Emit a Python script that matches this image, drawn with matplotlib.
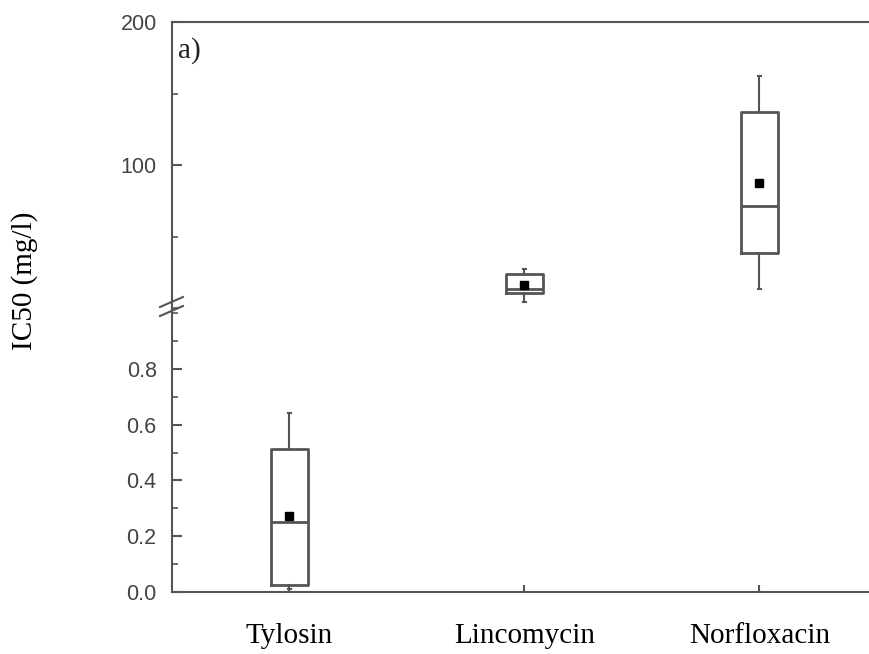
import matplotlib.pyplot as plt
from matplotlib.lines import Line2D
from matplotlib.ticker import MultipleLocator

categories = ["Tylosin", "Lincomycin", "Norfloxacin"]
whislo = [0.01, 4.2, 13.3]
q1 = [0.025, 10.5, 38.5]
med = [0.25, 13.3, 71.3]
q3 = [0.514, 23.8, 137]
whishi = [0.643, 27.3, 162]
means = [0.271, 16.1, 87.4]

gray = "#555555"
W, H = 870, 654
fig = plt.figure(figsize=(W / 100, H / 100), dpi=100)

left = 172 / W
width = 705 / W
ax_top = fig.add_axes([left, 1 - 308 / H, width, (308 - 22) / H])
ax_bot = fig.add_axes([left, 1 - 592 / H, width, (592 - 313) / H])

stats = []
for i in range(len(categories)):
    stats.append(dict(label=categories[i], whislo=whislo[i], q1=q1[i], med=med[i],
                      q3=q3[i], whishi=whishi[i], mean=means[i]))

box_kw = dict(widths=0.16, showmeans=True, showfliers=False, patch_artist=False,
              boxprops=dict(color=gray, linewidth=2.0),
              medianprops=dict(color=gray, linewidth=2.0),
              whiskerprops=dict(color=gray, linewidth=1.5),
              capprops=dict(color=gray, linewidth=1.5),
              meanprops=dict(marker="s", markerfacecolor="black", markeredgecolor="black", markersize=5.5),
              capwidths=0.015)

ax_bot.bxp(stats[:1], positions=[1], **box_kw)
ax_top.bxp(stats[1:], positions=[2, 3], **box_kw)

for ax in (ax_top, ax_bot):
    ax.set_xlim(0.5, 3.5)
    for s in ax.spines.values():
        s.set_color(gray)
        s.set_linewidth(1.5)
    ax.spines["right"].set_visible(False)
    ax.tick_params(axis="y", which="major", direction="in", length=7, width=1.5, color=gray,
                   labelsize=15.5, labelcolor="#444444", pad=11)
    ax.tick_params(axis="y", which="minor", direction="in", length=4, width=1.2, color=gray)

ax_top.set_ylim(0, 200)
ax_top.set_yticks([100, 200])
ax_top.set_yticklabels(["100", "200"], family="Liberation Sans")
ax_top.yaxis.set_minor_locator(MultipleLocator(50))
ax_top.spines["bottom"].set_visible(False)
ax_top.tick_params(axis="x", bottom=False, labelbottom=False)
ax_top.text(0.009, 0.90, "a)", transform=ax_top.transAxes, fontsize=21, family="Liberation Serif",
            color="#222222", va="center")

ax_bot.set_ylim(0, 1.0)
ax_bot.set_yticks([0.0, 0.2, 0.4, 0.6, 0.8])
ax_bot.set_yticklabels(["0.0", "0.2", "0.4", "0.6", "0.8"], family="Liberation Sans")
ax_bot.yaxis.set_minor_locator(MultipleLocator(0.1))
ax_bot.spines["top"].set_visible(False)
ax_bot.set_xticks([1, 2, 3])
ax_bot.set_xticklabels(categories, family="Liberation Serif", fontsize=21)
ax_bot.tick_params(axis="x", direction="in", length=5, width=1.5, color=gray, pad=22)

# spine connection and break marks
fig.add_artist(Line2D([left, left], [1 - 308 / H, 1 - 313 / H], color=gray, lw=1.5))
for yc in (302, 311):
    fig.add_artist(Line2D([160 / W, 183 / W], [1 - (yc + 5) / H, 1 - (yc - 5) / H],
                          color=gray, lw=1.5))

fig.text(25 / W, 1 - 281 / H, "IC50 (mg/l)", rotation=90, ha="center", va="center",
         family="Liberation Serif", fontsize=21)

fig.savefig("out.png", dpi=100)
